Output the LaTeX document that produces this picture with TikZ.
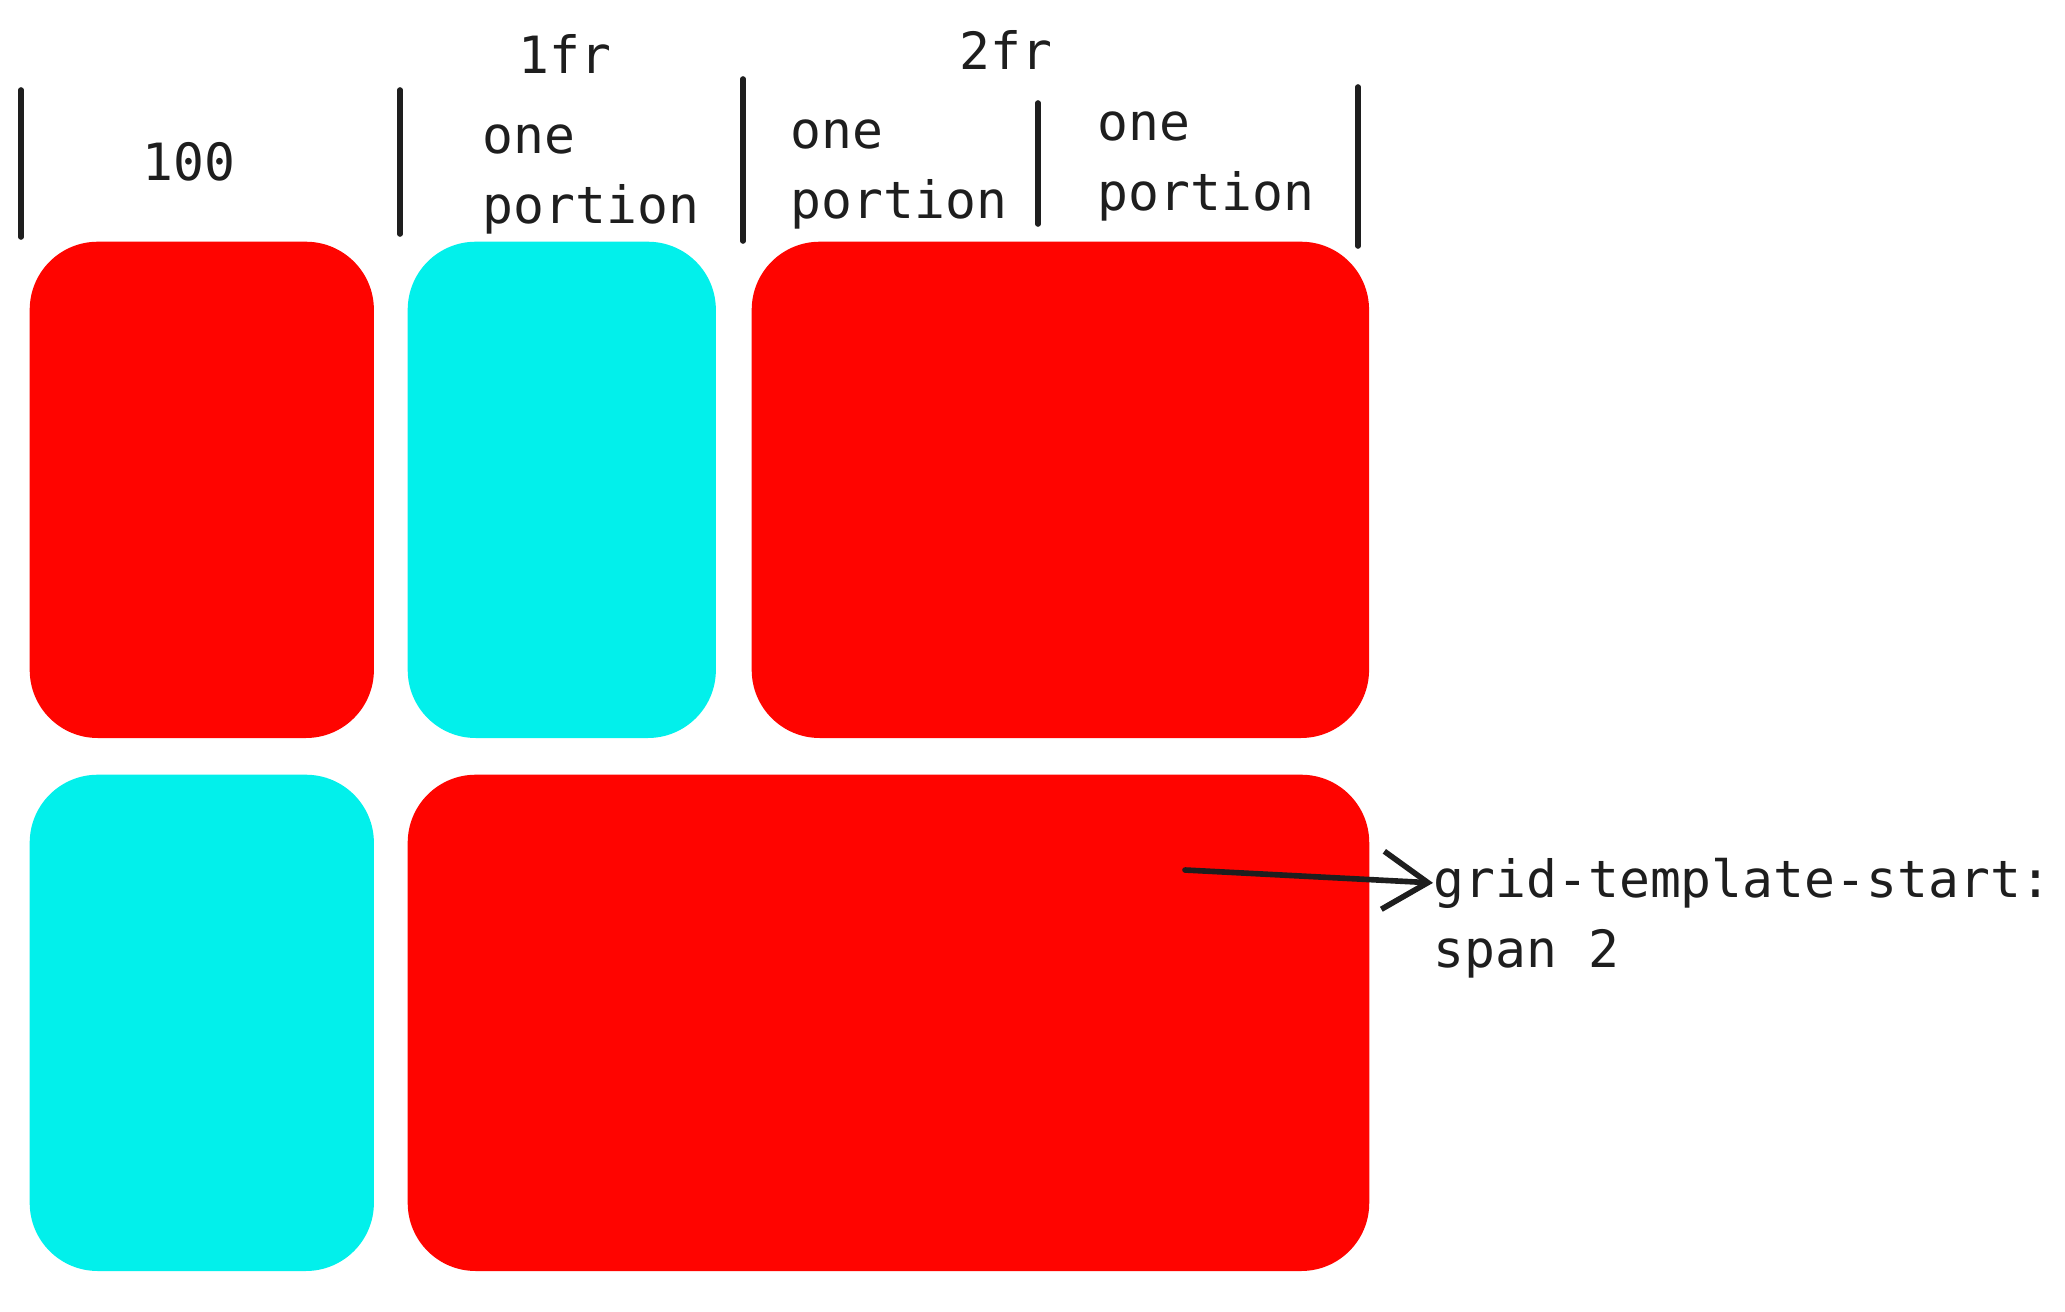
\documentclass[tikz,border=0pt]{standalone}
\usepackage{fontspec}
\setmonofont{DejaVu Sans Mono}
\usetikzlibrary{arrows.meta,positioning}
\definecolor{cellred}{RGB}{255,4,0}
\definecolor{cellcyan}{RGB}{2,240,235}
\definecolor{inkblack}{RGB}{30,30,30}

\begin{document}
\begin{tikzpicture}[
    x=0.01cm, y=-0.01cm,
    cell/.style={rounded corners=0.68cm, inner sep=0pt, anchor=north west, minimum height=4.96cm},
    hand/.style={font=\ttfamily\fontsize{14.6}{19.9}\selectfont, text=inkblack, inner sep=0pt},
    tick/.style={line width=1.6pt, inkblack, line cap=round},
    arrow/.style={-{Straight Barb[length=4.5mm, width=5.8mm]}, line width=1.6pt, inkblack, line cap=round}
  ]
  \useasboundingbox (0,0) rectangle (2065,1311);

  % 第一行
  \node[cell, fill=cellred, minimum width=3.44cm] (r1a) at (29,241) {};
  \node[cell, fill=cellcyan, minimum width=3.08cm] (r1b) at (407,241) {};
  \node[cell, fill=cellred, minimum width=6.17cm] (r1c) at (751,241) {};

  % 第二行
  \node[cell, fill=cellcyan, minimum width=3.44cm] (r2a) at (29,774) {};
  \node[cell, fill=cellred, minimum width=9.61cm] (r2b) at (407,774) {};

  % 列分隔线
  \draw[tick] (21,90) -- (21,237);
  \draw[tick] (400,90) -- (400,234);
  \draw[tick] (743,79) -- (743,241);
  \draw[tick] (1038,103) -- (1038,224);
  \draw[tick] (1358,87) -- (1358,246);

  % 列宽标注
  \node[hand, anchor=base] (w100) at (189,180) {100};
  \node[hand, anchor=base] (fr1) at (565,73) {1fr};
  \node[hand, anchor=base] (fr2) at (1006,69) {2fr};
  \node[hand, anchor=base west, align=left] (part1) at (482,223) {one\\portion};
  \node[hand, anchor=base west, align=left] (part2) at (790,218) {one\\portion};
  \node[hand, anchor=base west, align=left] (part3) at (1097,210) {one\\portion};

  % 跨列说明
  \node[hand, anchor=base west] (gts) at (1433,897) {grid-template-start:};
  \node[hand, anchor=base west] (span) at (1433,967) {span 2};
  \coordinate (tail) at (1185,870);
  \draw[arrow] (tail) -- (gts.west);
\end{tikzpicture}
\end{document}
